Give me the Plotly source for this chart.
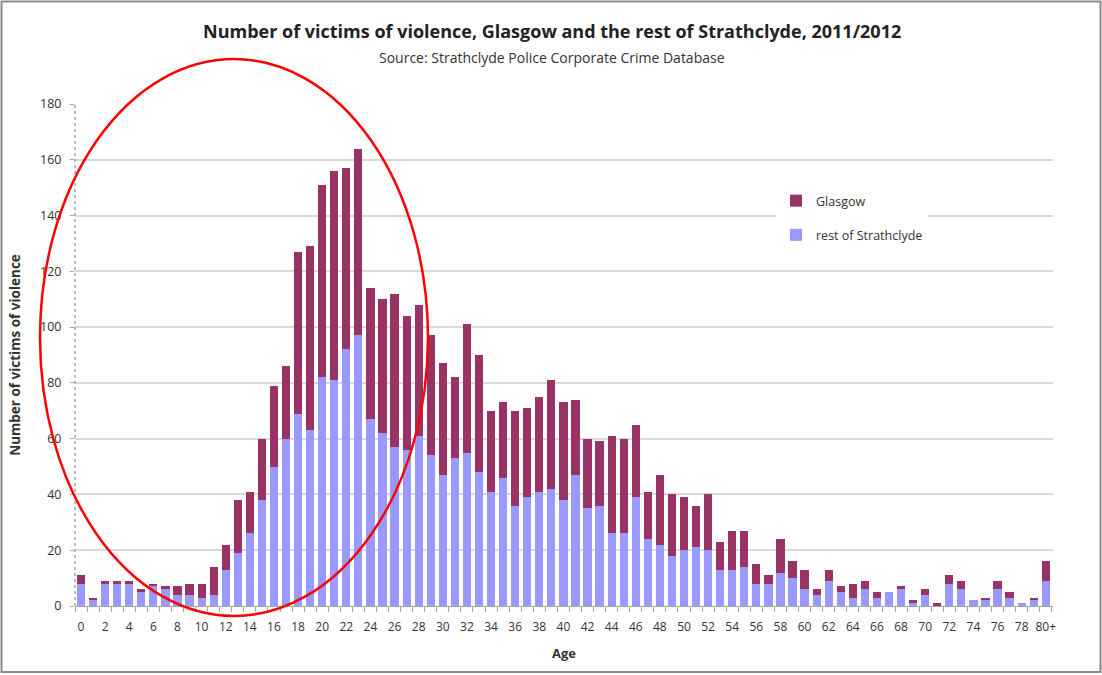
import plotly.graph_objects as go

# Age categories (single years 0-79, then 80 and over)
age_labels = [str(a) for a in range(80)] + ["80+"]

# Victims outside Glasgow (lower segment)
rest_of_strathclyde = [
    8, 2, 8, 8, 8, 5, 7, 6, 4, 4,
    3, 4, 13, 19, 26, 38, 50, 60, 69, 63,
    82, 81, 92, 97, 67, 62, 57, 56, 61, 54,
    47, 53, 55, 48, 41, 46, 36, 39, 41, 42,
    38, 47, 35, 36, 26, 26, 39, 24, 22, 18,
    20, 21, 20, 13, 13, 14, 8, 8, 12, 10,
    6, 4, 9, 5, 3, 6, 3, 5, 6, 1,
    4, 0, 8, 6, 2, 2, 6, 3, 1, 2,
    9,
]

# Total victims per age (Glasgow + rest of Strathclyde)
total_victims = [
    11, 3, 9, 9, 9, 6, 8, 7, 7, 8,
    8, 14, 22, 38, 41, 60, 79, 86, 127, 129,
    151, 156, 157, 164, 114, 110, 112, 104, 108, 97,
    87, 82, 101, 90, 70, 73, 70, 71, 75, 81,
    73, 74, 60, 59, 61, 60, 65, 41, 47, 40,
    39, 36, 40, 23, 27, 27, 15, 11, 24, 16,
    13, 6, 13, 7, 8, 9, 5, 5, 7, 2,
    6, 1, 11, 9, 2, 3, 9, 5, 1, 3,
    16,
]

glasgow = [t - r for t, r in zip(total_victims, rest_of_strathclyde)]

y_tick_values = list(range(0, 181, 20))

W, H = 1102, 675
M_L, M_R, M_T, M_B = 75, 49, 104, 69
PW, PH = W - M_L - M_R, H - M_T - M_B


def px_to_paper_x(px):
    return (px - M_L) / PW


def px_to_paper_y(py):
    return (H - M_B - py) / PH


positions = list(range(len(age_labels)))

fig = go.Figure()
fig.add_trace(go.Bar(
    x=positions, y=rest_of_strathclyde, name="rest of Strathclyde",
    legendgroup="rest", legendrank=2,
    marker=dict(color="#9999FF", line=dict(width=0)),
))
fig.add_trace(go.Bar(
    x=positions, y=glasgow, name="Glasgow",
    legendgroup="glasgow", legendrank=1,
    marker=dict(color="#993366", line=dict(width=0)),
))

font_family = "Open Sans, Liberation Sans, sans-serif"

fig.update_layout(
    width=W, height=H,
    barmode="stack",
    bargap=0.32,
    paper_bgcolor="white",
    plot_bgcolor="white",
    margin=dict(l=M_L, r=M_R, t=M_T, b=M_B),
    font=dict(family=font_family, color="#333333", size=12),
    showlegend=True,
    legend=dict(
        x=px_to_paper_x(776), y=px_to_paper_y(186),
        xanchor="left", yanchor="top",
        bgcolor="white", borderwidth=0,
        traceorder="grouped",
        font=dict(size=12.5, color="#333333"),
        itemwidth=30, tracegroupgap=15,
    ),
    xaxis=dict(
        range=[-0.5, 80.6],
        tickmode="array",
        tickvals=positions[::2],
        ticktext=age_labels[::2],
        ticks="",
        ticklabelstandoff=10,
        showgrid=False,
        zeroline=False,
        showline=True, linecolor="#a6a6a6", linewidth=1,
        tickfont=dict(size=12, color="#333333"),
        minor=dict(tick0=0.5, dtick=1, ticks="outside", ticklen=5,
                   tickcolor="#a6a6a6", showgrid=False),
        title=dict(text="<b>Age</b>", font=dict(size=13, color="#333333"),
                   standoff=14),
    ),
    yaxis=dict(
        range=[0, 180],
        tickvals=y_tick_values,
        ticks="outside", ticklen=4, tickcolor="#a6a6a6",
        ticklabelstandoff=6,
        showgrid=True, gridcolor="#d9d9d9", gridwidth=1.5,
        zeroline=False,
        showline=False,
        tickfont=dict(size=12.5, color="#333333"),
        title=dict(text="<b>Number of victims of violence</b>",
                   font=dict(size=13.5, color="#333333"), standoff=16),
    ),
)

# Title and subtitle
fig.add_annotation(
    text="<b>Number of victims of violence, Glasgow and the rest of Strathclyde, 2011/2012</b>",
    xref="paper", yref="paper",
    x=px_to_paper_x(552), y=px_to_paper_y(31),
    xanchor="center", yanchor="middle", showarrow=False,
    font=dict(size=18, color="#222222", family=font_family),
)
fig.add_annotation(
    text="Source: Strathclyde Police Corporate Crime Database",
    xref="paper", yref="paper",
    x=px_to_paper_x(552), y=px_to_paper_y(57),
    xanchor="center", yanchor="middle", showarrow=False,
    font=dict(size=14, color="#333333", family=font_family),
)

# Dotted vertical value axis
fig.add_shape(
    type="line", xref="paper", yref="paper",
    x0=0, x1=0, y0=0, y1=1,
    line=dict(color="#a6a6a6", width=1.5, dash="dot"),
)

# Red ellipse highlighting the young-adult peak
fig.add_shape(
    type="circle", xref="paper", yref="paper",
    x0=px_to_paper_x(40), x1=px_to_paper_x(428),
    y0=px_to_paper_y(616), y1=px_to_paper_y(59),
    line=dict(color="#ff0000", width=2.5),
    layer="above",
)

# Outer frame around the whole chart
fig.add_shape(
    type="rect", xref="paper", yref="paper",
    x0=px_to_paper_x(1.5), x1=px_to_paper_x(1100.5),
    y0=px_to_paper_y(672), y1=px_to_paper_y(1.5),
    line=dict(color="#8c8c8c", width=2),
    layer="above",
)

fig.write_html("out.html")
